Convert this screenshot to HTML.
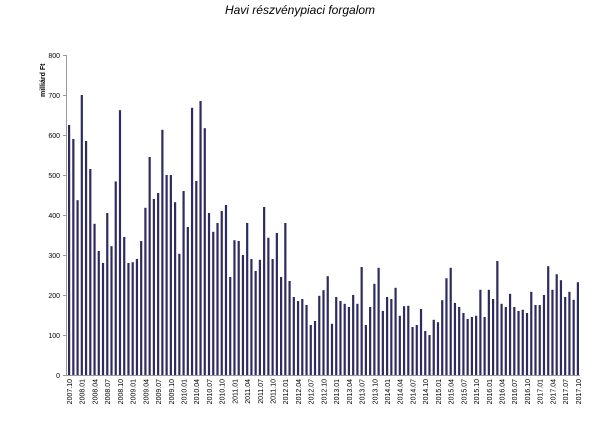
<!DOCTYPE html>
<html><head><meta charset="utf-8"><style>
body{margin:0;background:#fff;width:600px;height:427px;overflow:hidden}
svg{display:block;font-family:"Liberation Sans",sans-serif}
.t{font-size:7px;fill:#000}
</style></head><body>
<svg id="s" width="600" height="427" viewBox="0 0 600 427">
<text x="300" y="14" text-anchor="middle" font-size="12" font-style="italic">Havi részvénypiaci forgalom</text>
<text transform="translate(45,97) rotate(-90)" font-size="7" font-weight="bold">milliárd Ft</text>
<g font-size="7" text-anchor="end">
<text x="60" y="378">0</text><text x="60" y="338">100</text><text x="60" y="298">200</text><text x="60" y="258">300</text>
<text x="60" y="218">400</text><text x="60" y="178">500</text><text x="60" y="138">600</text><text x="60" y="98">700</text><text x="60" y="58">800</text>
</g>
<g stroke="#999" stroke-width="1">
<line x1="66.5" y1="55" x2="66.5" y2="376"/>
<line x1="66" y1="375.5" x2="580" y2="375.5"/>
<line x1="63" y1="55.5" x2="66" y2="55.5"/><line x1="63" y1="95.5" x2="66" y2="95.5"/><line x1="63" y1="135.5" x2="66" y2="135.5"/><line x1="63" y1="175.5" x2="66" y2="175.5"/><line x1="63" y1="215.5" x2="66" y2="215.5"/><line x1="63" y1="255.5" x2="66" y2="255.5"/><line x1="63" y1="295.5" x2="66" y2="295.5"/><line x1="63" y1="335.5" x2="66" y2="335.5"/><line x1="63" y1="375.5" x2="66" y2="375.5"/>
</g>
<g id="bars" fill="#2e2b5f"></g>
<g class="t" text-anchor="end">
<text transform="translate(72,379) rotate(-90)">2007.10</text>
<text transform="translate(84.7,379) rotate(-90)">2008.01</text>
<text transform="translate(97.4,379) rotate(-90)">2008.04</text>
<text transform="translate(110.2,379) rotate(-90)">2008.07</text>
<text transform="translate(122.9,379) rotate(-90)">2008.10</text>
<text transform="translate(135.6,379) rotate(-90)">2009.01</text>
<text transform="translate(148.3,379) rotate(-90)">2009.04</text>
<text transform="translate(161,379) rotate(-90)">2009.07</text>
<text transform="translate(173.8,379) rotate(-90)">2009.10</text>
<text transform="translate(186.5,379) rotate(-90)">2010.01</text>
<text transform="translate(199.2,379) rotate(-90)">2010.04</text>
<text transform="translate(211.9,379) rotate(-90)">2010.07</text>
<text transform="translate(224.6,379) rotate(-90)">2010.10</text>
<text transform="translate(237.4,379) rotate(-90)">2011.01</text>
<text transform="translate(250.1,379) rotate(-90)">2011.04</text>
<text transform="translate(262.8,379) rotate(-90)">2011.07</text>
<text transform="translate(275.5,379) rotate(-90)">2011.10</text>
<text transform="translate(288.2,379) rotate(-90)">2012.01</text>
<text transform="translate(301,379) rotate(-90)">2012.04</text>
<text transform="translate(313.7,379) rotate(-90)">2012.07</text>
<text transform="translate(326.4,379) rotate(-90)">2012.10</text>
<text transform="translate(339.1,379) rotate(-90)">2013.01</text>
<text transform="translate(351.8,379) rotate(-90)">2013.04</text>
<text transform="translate(364.6,379) rotate(-90)">2013.07</text>
<text transform="translate(377.3,379) rotate(-90)">2013.10</text>
<text transform="translate(390,379) rotate(-90)">2014.01</text>
<text transform="translate(402.7,379) rotate(-90)">2014.04</text>
<text transform="translate(415.4,379) rotate(-90)">2014.07</text>
<text transform="translate(428.2,379) rotate(-90)">2014.10</text>
<text transform="translate(440.9,379) rotate(-90)">2015.01</text>
<text transform="translate(453.6,379) rotate(-90)">2015.04</text>
<text transform="translate(466.3,379) rotate(-90)">2015.07</text>
<text transform="translate(479,379) rotate(-90)">2015.10</text>
<text transform="translate(491.8,379) rotate(-90)">2016.01</text>
<text transform="translate(504.5,379) rotate(-90)">2016.04</text>
<text transform="translate(517.2,379) rotate(-90)">2016.07</text>
<text transform="translate(529.9,379) rotate(-90)">2016.10</text>
<text transform="translate(542.6,379) rotate(-90)">2017.01</text>
<text transform="translate(555.4,379) rotate(-90)">2017.04</text>
<text transform="translate(568.1,379) rotate(-90)">2017.07</text>
<text transform="translate(580.8,379) rotate(-90)">2017.10</text>
</g>
</svg>
<script>
var v=[625,590,437,700,585,515,378,310,280,405,322,484,662,345,280,282,290,335,418,545,440,455,613,500,500,432,303,460,370,668,485,685,617,405,358,380,410,425,245,337,335,300,380,290,260,288,420,343,290,355,245,380,235,195,185,190,175,125,135,198,212,247,128,195,185,178,170,200,178,270,125,170,228,268,160,195,190,218,148,172,173,120,125,165,110,100,138,132,187,242,268,180,170,155,140,145,148,213,145,213,190,285,178,170,203,170,160,163,155,208,175,175,200,272,213,252,237,195,208,188,232];
var g=document.getElementById('bars'),ns='http://www.w3.org/2000/svg';
v.forEach(function(d,i){var r=document.createElementNS(ns,'rect');var h=d*0.4;
r.setAttribute('x',(68+i*4.24).toFixed(2));r.setAttribute('y',(375-h).toFixed(2));
r.setAttribute('width','2.2');r.setAttribute('height',h.toFixed(2));g.appendChild(r);});
</script>
</body></html>
